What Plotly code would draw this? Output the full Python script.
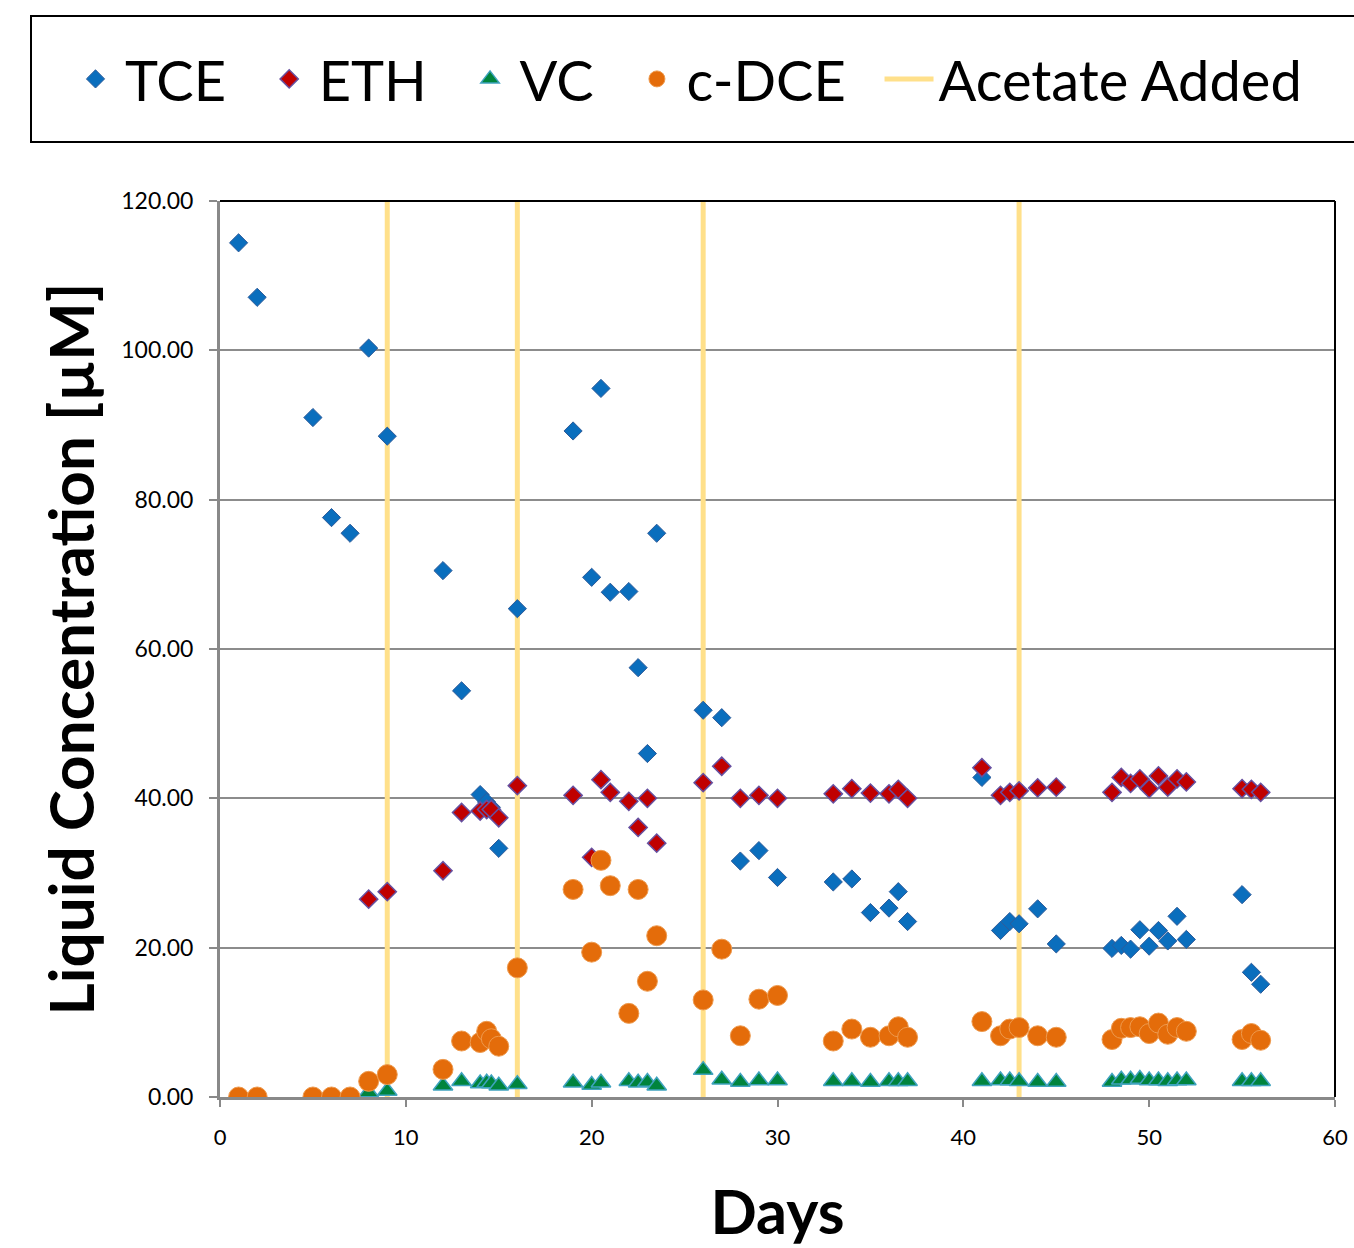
import plotly.graph_objects as go

# ---- data ----
days = [1, 2, 5, 6, 7, 8, 9, 12, 13, 14, 14.35, 14.6, 15, 16,
        19, 20, 20.5, 21, 22, 22.5, 23, 23.5, 26, 27, 28, 29, 30,
        33, 34, 35, 36, 36.5, 37, 41, 42, 42.5, 43, 44, 45,
        48, 48.5, 49, 49.5, 50, 50.5, 51, 51.5, 52, 55, 55.5, 56]

tce = [114.4, 107.1, 91.0, 77.6, 75.5, 100.3, 88.5, 70.5, 54.4, 40.5, 39.5, 38.8, 33.3, 65.4,
       89.2, 69.6, 94.9, 67.6, 67.7, 57.5, 46.0, 75.5, 51.8, 50.8, 31.6, 33.0, 29.4,
       28.8, 29.2, 24.7, 25.3, 27.5, 23.5, 42.8, 22.3, 23.5, 23.2, 25.2, 20.5,
       19.9, 20.3, 19.8, 22.4, 20.2, 22.3, 20.9, 24.2, 21.1, 27.1, 16.7, 15.1]

eth = [None, None, None, None, None, 26.5, 27.5, 30.3, 38.1, 38.3, 38.5, 38.5, 37.4, 41.7,
       40.4, 32.1, 42.5, 40.8, 39.6, 36.1, 40.0, 34.0, 42.1, 44.3, 40.0, 40.4, 40.0,
       40.6, 41.3, 40.7, 40.6, 41.2, 40.0, 44.1, 40.4, 40.8, 41.0, 41.4, 41.5,
       40.8, 42.8, 42.0, 42.6, 41.3, 43.0, 41.5, 42.6, 42.2, 41.3, 41.2, 40.8]

vc = [0.0, 0.0, 0.0, 0.0, 0.0, 0.6, 0.8, 1.5, 2.1, 1.8, 1.9, 1.8, 1.5, 1.7,
      1.9, 1.6, 1.9, None, 2.1, 1.9, 2.0, 1.5, 3.6, 2.3, 2.0, 2.2, 2.2,
      2.1, 2.1, 2.0, 2.1, 2.1, 2.1, 2.1, 2.2, 2.2, 2.1, 2.0, 2.0,
      2.0, 2.3, 2.3, 2.4, 2.2, 2.2, 2.1, 2.2, 2.2, 2.1, 2.1, 2.1]

cdce = [0.0, 0.0, 0.0, 0.0, 0.0, 2.1, 3.0, 3.7, 7.5, 7.3, 8.8, 7.8, 6.8, 17.3,
        27.8, 19.4, 31.7, 28.3, 11.2, 27.8, 15.5, 21.6, 13.0, 19.8, 8.2, 13.1, 13.6,
        7.5, 9.1, 8.0, 8.2, 9.4, 8.0, 10.1, 8.2, 9.1, 9.3, 8.2, 8.0,
        7.7, 9.2, 9.3, 9.4, 8.5, 9.9, 8.4, 9.3, 8.8, 7.7, 8.5, 7.6]

acetate_days = [9, 16, 26, 43]
y_range = [0, 120]
x_range = [0, 60]

FONT = "Lato"
PAD = "\u00a0\u00a0"  # spacing after legend labels

fig = go.Figure()

# Acetate addition lines (drawn beneath the markers)
ax, ay = [], []
for d in acetate_days:
    ax += [d, d, None]
    ay += [y_range[0], y_range[1], None]
fig.add_trace(go.Scatter(x=ax, y=ay, mode="lines", name="Acetate Added",
                         line=dict(color="#FFE08A", width=5), legendrank=5,
                         hoverinfo="skip"))

fig.add_trace(go.Scatter(x=days, y=tce, mode="markers", name="TCE" + PAD, legendrank=1,
                         marker=dict(symbol="diamond", size=14, color="#0A6EBD",
                                     line=dict(color="#2F5C9A", width=1))))
fig.add_trace(go.Scatter(x=days, y=eth, mode="markers", name="ETH" + PAD, legendrank=2,
                         marker=dict(symbol="diamond", size=14, color="#C00000",
                                     line=dict(color="#6650A0", width=1.5))))
fig.add_trace(go.Scatter(x=days, y=vc, mode="markers", name="VC" + PAD, legendrank=3,
                         marker=dict(symbol="triangle-up", size=17, color="#00843D",
                                     line=dict(color="#3FA3BF", width=1.5))))
fig.add_trace(go.Scatter(x=days, y=cdce, mode="markers", name="c-DCE" + PAD, legendrank=4,
                         marker=dict(symbol="circle", size=20, color="#E46C0A",
                                     line=dict(color="#EE9A4E", width=1))))

# plot area spans pixels: x 220..1335, y 201..1097
L, R, T, B = 220, 1335, 201, 1097
W, H = 1354, 1248
pw, ph = R - L, B - T


def px_x(p):
    return (p - L) / pw


def px_y(p):
    return (B - p) / ph


fig.update_layout(
    width=W, height=H,
    margin=dict(l=L, r=W - R, t=T, b=H - B, pad=0, autoexpand=False),
    paper_bgcolor="white", plot_bgcolor="white",
    font=dict(family=FONT, color="black"),
    showlegend=True,
    legend=dict(orientation="h", x=px_x(66), xanchor="left", y=px_y(79), yanchor="middle",
                font=dict(family=FONT, size=56, color="black"),
                itemsizing="trace", itemwidth=49,
                bgcolor="rgba(0,0,0,0)", borderwidth=0,
                traceorder="normal"),
    xaxis=dict(range=x_range, dtick=10, tick0=0, showgrid=False, zeroline=False,
               showline=True, linecolor="#898989", linewidth=3, automargin=False,
               ticks="outside", ticklen=7, tickwidth=2, tickcolor="#898989",
               tickfont=dict(family=FONT, size=22, color="black"),
               ticklabelstandoff=12,
               title=dict(text="<b>Days</b>", font=dict(family=FONT, size=61, color="black"),
                          standoff=42)),
    yaxis=dict(range=y_range, dtick=20, tick0=0, tickformat=".2f",
               showgrid=True, gridcolor="#8C8C8C", gridwidth=1.5, zeroline=False,
               showline=True, linecolor="#898989", linewidth=3, automargin=False,
               ticks="outside", ticklen=8, tickwidth=2, tickcolor="#898989",
               tickfont=dict(family=FONT, size=23, color="black"),
               ticklabelstandoff=11,
               title=dict(text="<b>Liquid Concentration [µM]</b>",
                          font=dict(family=FONT, size=62, color="black"),
                          standoff=7)),
    shapes=[
        # black top and right frame of the plot area
        dict(type="line", xref="paper", yref="paper", x0=0, x1=1, y0=1, y1=1,
             line=dict(color="black", width=2)),
        dict(type="line", xref="paper", yref="paper", x0=1, x1=1, y0=0, y1=1,
             line=dict(color="black", width=2)),
        # legend frame
        dict(type="rect", xref="paper", yref="paper",
             x0=px_x(31), x1=px_x(1375), y0=px_y(142), y1=px_y(16),
             line=dict(color="black", width=2), fillcolor="rgba(0,0,0,0)"),
    ],
)

fig.write_html("out.html")
